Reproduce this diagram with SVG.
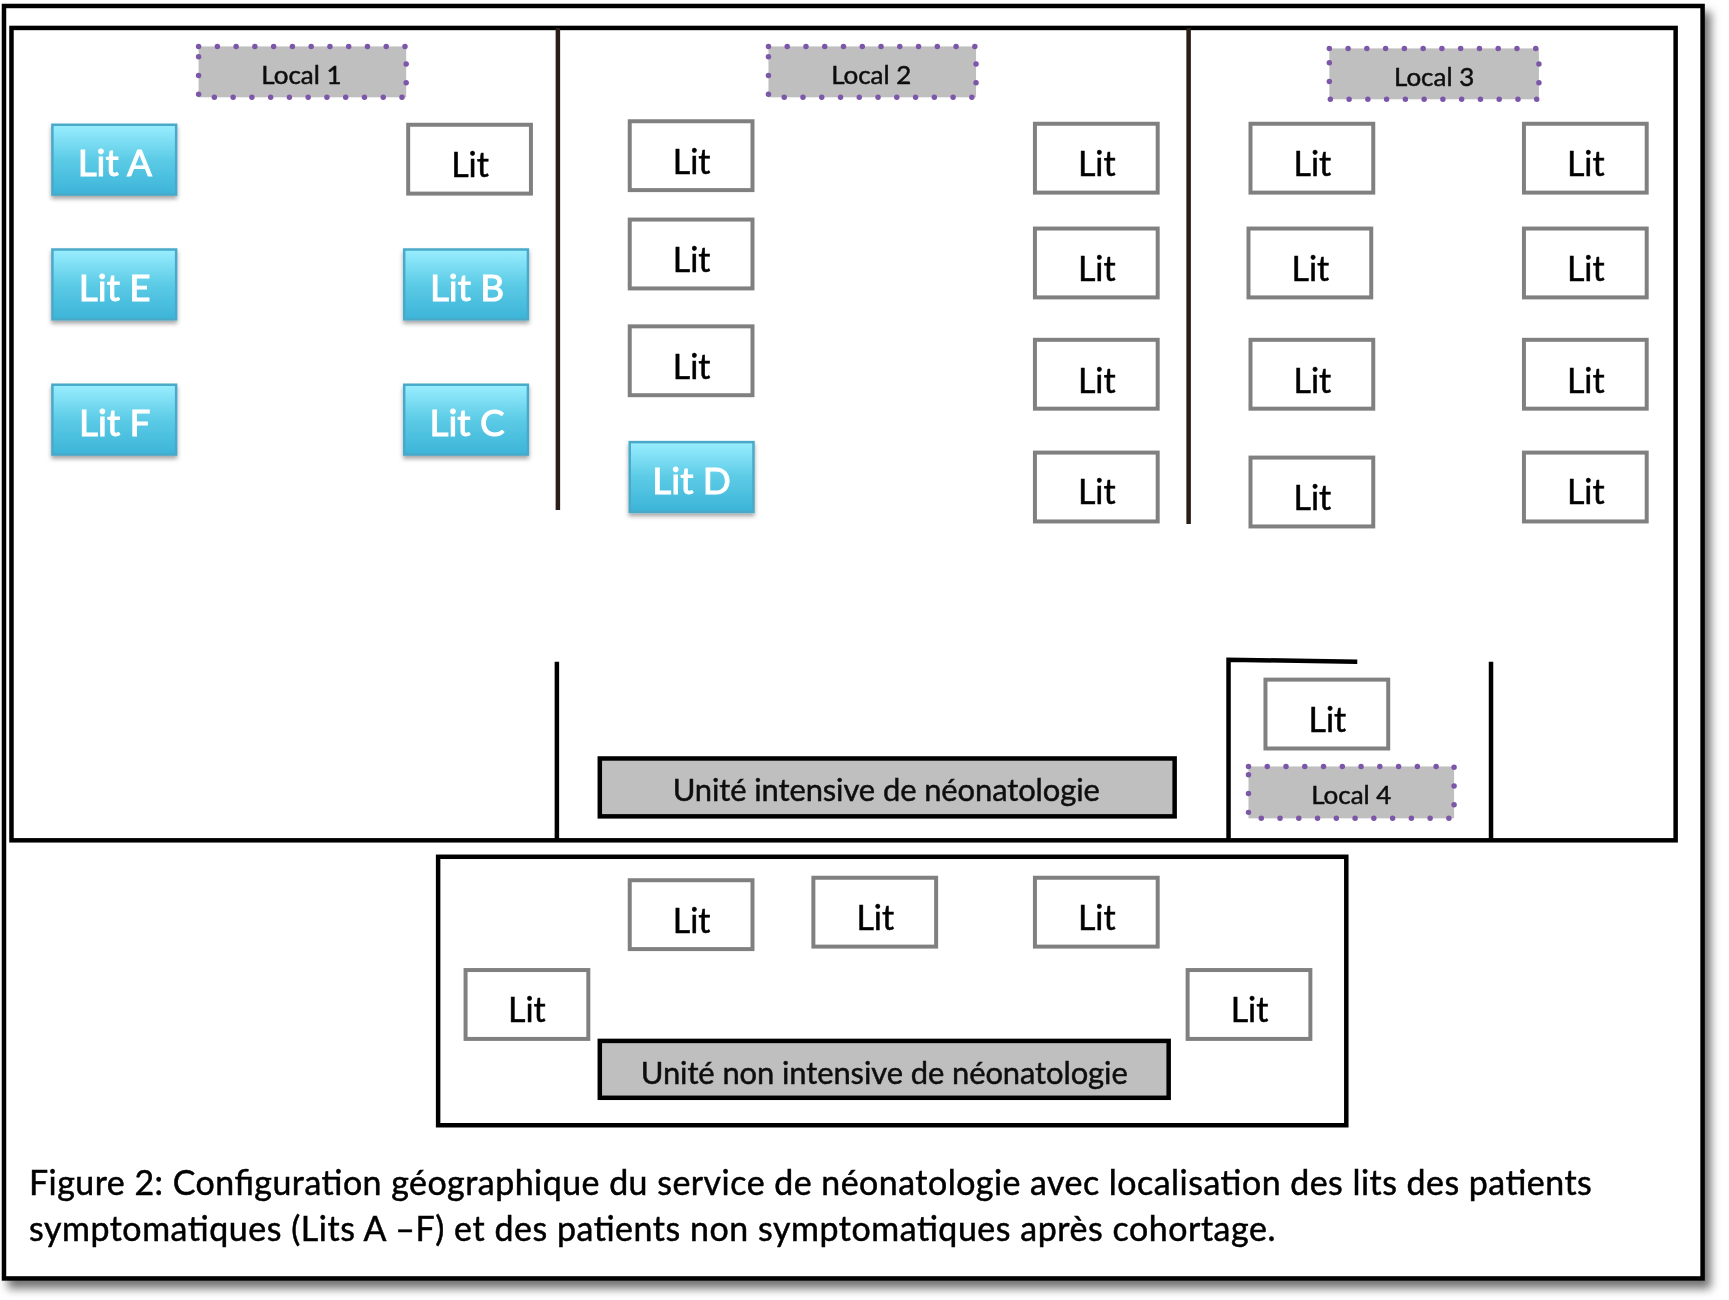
<svg xmlns="http://www.w3.org/2000/svg" width="1729" height="1300" viewBox="0 0 1729 1300">
<style>
text{font-family:"Lato","Carlito","Liberation Sans",sans-serif;text-anchor:middle;transform:translateY(-1.5px);stroke-width:0.5px}
.bed{fill:#fff;stroke:#808080;stroke-width:4}
.sym{fill:url(#blue);stroke:#4aa9c9;stroke-width:2.5;filter:url(#drop)}
.lit{font-size:34px;fill:#000;stroke:#000;transform:translateY(-0.5px)}
.lit2{font-size:37px;fill:#fff;stroke:#fff;stroke-width:1px}
.loc{fill:#bfbfbf;stroke:#7b57a8;stroke-width:5.500;stroke-dasharray:0 18.8;stroke-linecap:round}
.loct{font-size:26px;fill:#111;stroke:#111}
.unit{fill:#bfbfbf;stroke:#000;stroke-width:4.500}
.unitt{font-size:31px;fill:#111;stroke:#111;transform:translateY(0)}
.wall{fill:none;stroke:#000;stroke-width:4.500}
.div{fill:none;stroke:#2a1a12;stroke-width:4.500}
.cap{font-size:34px;fill:#000;stroke:#000;text-anchor:start;transform:translateY(0)}
</style>
<defs>
<linearGradient id="blue" x1="0" y1="0" x2="0" y2="1"><stop offset="0" stop-color="#9aeeff"/><stop offset="0.5" stop-color="#5ccbe6"/><stop offset="1" stop-color="#3cb4d8"/></linearGradient>
<filter id="drop" x="-10%" y="-10%" width="120%" height="130%"><feDropShadow dx="0" dy="3" stdDeviation="2" flood-color="#000" flood-opacity="0.35"/></filter>
<filter id="page" filterUnits="userSpaceOnUse" x="0" y="0" width="1729" height="1300"><feDropShadow dx="6" dy="8" stdDeviation="5" flood-color="#000" flood-opacity="0.55"/></filter>
<filter id="soft" filterUnits="userSpaceOnUse" x="0" y="0" width="1729" height="1300"><feGaussianBlur stdDeviation="0.7"/></filter>
</defs>
<rect width="1729" height="1300" fill="#fff"/>
<g filter="url(#soft)">
<g transform="scale(0.998)">
<rect id="page-frame" x="4" y="6" width="1702" height="1275" fill="#fff" stroke="#000" stroke-width="4.500" filter="url(#page)"/>
<g id="walls">
<rect class="wall" x="11.500" y="28" width="1667.500" height="814"/>
<path class="div" d="M559 28V511"/>
<path class="wall" d="M558 663V842"/>
<path class="div" d="M1191 28V525"/>
<path class="wall" d="M1231 842V661L1360 663"/>
<path class="wall" d="M1494 663V842"/>
<rect class="wall" x="439" y="858.500" width="910" height="269"/>
</g>
<g id="local-1"><rect class="loc" x="199" y="46.500" width="208" height="51"/><text class="loct" x="302" y="86">Local 1</text></g>
<g id="local-2"><rect class="loc" x="770" y="46.500" width="208" height="51"/><text class="loct" x="873" y="86">Local 2</text></g>
<g id="local-3"><rect class="loc" x="1332" y="48.500" width="210" height="51"/><text class="loct" x="1437" y="88">Local 3</text></g>
<g id="local-4"><rect class="loc" x="1251" y="768" width="206" height="52"/><text class="loct" x="1354" y="807">Local 4</text></g>
<g id="unit-intensive"><rect class="unit" x="601" y="760" width="576" height="58"/><text class="unitt" x="888" y="803" textLength="428">Unité intensive de néonatologie</text></g>
<g id="unit-non-intensive"><rect class="unit" x="601" y="1043" width="570" height="57"/><text class="unitt" x="886" y="1086" textLength="488">Unité non intensive de néonatologie</text></g>
<g id="lit-a"><rect class="sym" x="52.500" y="125" width="124" height="70"/><text class="lit2" x="115" y="178">Lit A</text></g>
<g id="lit-e"><rect class="sym" x="52.500" y="250" width="124" height="70"/><text class="lit2" x="115" y="303">Lit E</text></g>
<g id="lit-f"><rect class="sym" x="52.500" y="385.500" width="124" height="70"/><text class="lit2" x="115" y="438">Lit F</text></g>
<g id="lit-b"><rect class="sym" x="405" y="250" width="124" height="70"/><text class="lit2" x="468" y="303">Lit B</text></g>
<g id="lit-c"><rect class="sym" x="405" y="385.500" width="124" height="70"/><text class="lit2" x="468" y="438">Lit C</text></g>
<g id="lit-d"><rect class="sym" x="631" y="443" width="124" height="70"/><text class="lit2" x="693" y="496">Lit D</text></g>
<g id="bed-1"><rect class="bed" x="409" y="125" width="123" height="69"/><text class="lit" x="471" y="178">Lit</text></g>
<g id="bed-2"><rect class="bed" x="631" y="121.500" width="123" height="69"/><text class="lit" x="693" y="174.500">Lit</text></g>
<g id="bed-3"><rect class="bed" x="631" y="220" width="123" height="69"/><text class="lit" x="693" y="273">Lit</text></g>
<g id="bed-4"><rect class="bed" x="631" y="327" width="123" height="69"/><text class="lit" x="693" y="380">Lit</text></g>
<g id="bed-5"><rect class="bed" x="1037" y="124" width="123" height="69"/><text class="lit" x="1099" y="177">Lit</text></g>
<g id="bed-6"><rect class="bed" x="1037" y="229" width="123" height="69"/><text class="lit" x="1099" y="282">Lit</text></g>
<g id="bed-7"><rect class="bed" x="1037" y="340.500" width="123" height="69"/><text class="lit" x="1099" y="394">Lit</text></g>
<g id="bed-8"><rect class="bed" x="1037" y="453.500" width="123" height="69"/><text class="lit" x="1099" y="506">Lit</text></g>
<g id="bed-9"><rect class="bed" x="1253" y="124" width="123" height="69"/><text class="lit" x="1315" y="177">Lit</text></g>
<g id="bed-10"><rect class="bed" x="1251" y="229" width="123" height="69"/><text class="lit" x="1313" y="282">Lit</text></g>
<g id="bed-11"><rect class="bed" x="1253" y="340.500" width="123" height="69"/><text class="lit" x="1315" y="394">Lit</text></g>
<g id="bed-12"><rect class="bed" x="1253" y="458.500" width="123" height="69"/><text class="lit" x="1315" y="512">Lit</text></g>
<g id="bed-13"><rect class="bed" x="1527" y="124" width="123" height="69"/><text class="lit" x="1589" y="177">Lit</text></g>
<g id="bed-14"><rect class="bed" x="1527" y="229" width="123" height="69"/><text class="lit" x="1589" y="282">Lit</text></g>
<g id="bed-15"><rect class="bed" x="1527" y="340.500" width="123" height="69"/><text class="lit" x="1589" y="394">Lit</text></g>
<g id="bed-16"><rect class="bed" x="1527" y="453.500" width="123" height="69"/><text class="lit" x="1589" y="506">Lit</text></g>
<g id="bed-17"><rect class="bed" x="1268" y="681" width="123" height="69"/><text class="lit" x="1330" y="734">Lit</text></g>
<g id="bed-18"><rect class="bed" x="631" y="882" width="123" height="69"/><text class="lit" x="693" y="935">Lit</text></g>
<g id="bed-19"><rect class="bed" x="815" y="879.500" width="123" height="69"/><text class="lit" x="877" y="932.500">Lit</text></g>
<g id="bed-20"><rect class="bed" x="1037" y="879.500" width="123" height="69"/><text class="lit" x="1099" y="932.500">Lit</text></g>
<g id="bed-21"><rect class="bed" x="466.500" y="972" width="123" height="69"/><text class="lit" x="528" y="1025">Lit</text></g>
<g id="bed-22"><rect class="bed" x="1190" y="972" width="123" height="69"/><text class="lit" x="1252" y="1025">Lit</text></g>
<g id="caption">
<text class="cap" x="29" y="1197" textLength="1566">Figure 2: Configuration géographique du service de néonatologie avec localisation des lits des patients</text>
<text class="cap" x="29" y="1243" textLength="1249">symptomatiques (Lits A –F) et des patients non symptomatiques après cohortage.</text>
</g>
</g>
</g>
</svg>
